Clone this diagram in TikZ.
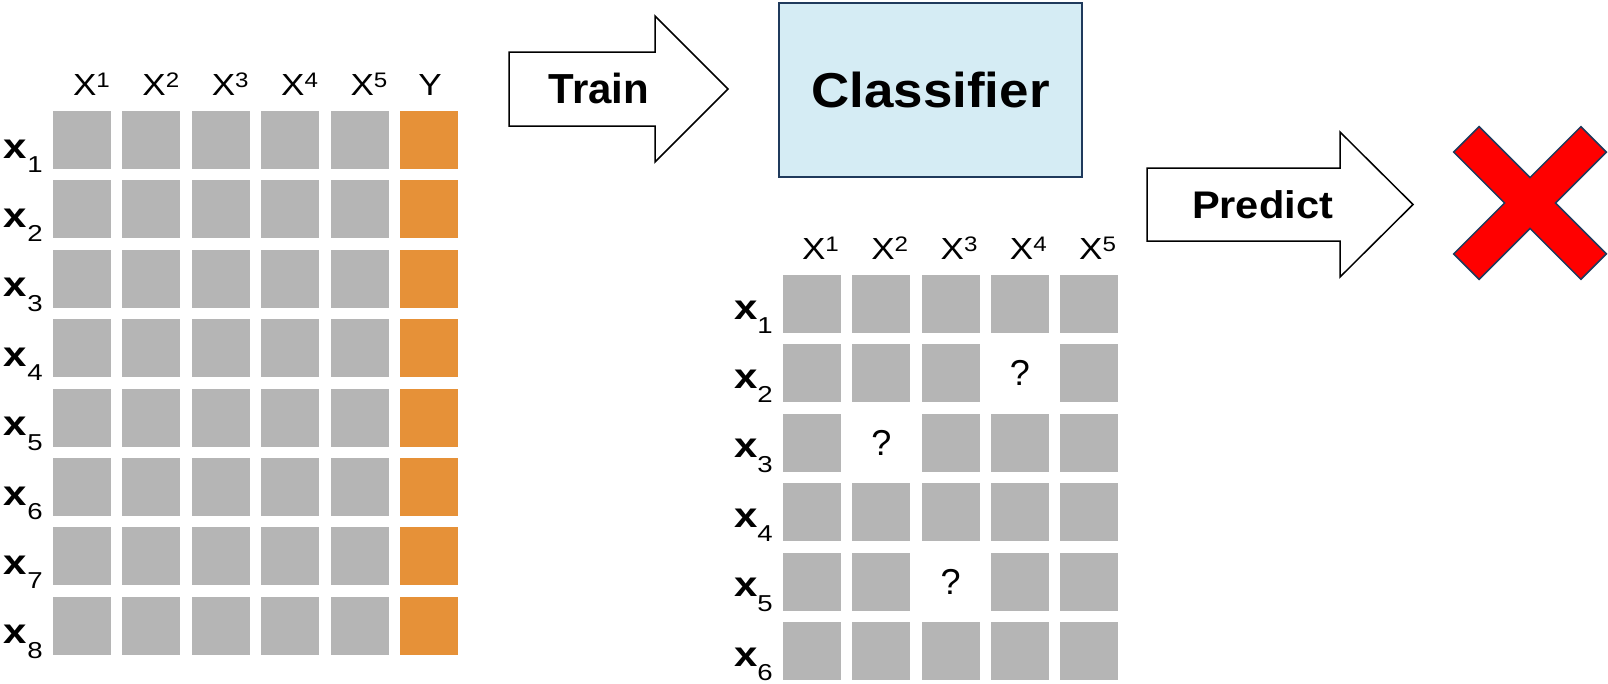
\documentclass[tikz,border=0pt]{standalone}
\usepackage{graphicx}
\usepackage{fontspec}
\setmainfont{Liberation Sans}
\definecolor{cellgray}{HTML}{B5B5B5}
\definecolor{cellorange}{HTML}{E69138}
\definecolor{clsfill}{HTML}{D5ECF4}
\definecolor{clsdraw}{HTML}{1F3A5C}
\definecolor{xred}{HTML}{FF0000}
\newcommand{\hdrtext}[1]{\scalebox{1.15}[1]{\fontsize{30.5}{30}\selectfont X\raisebox{8pt}{\fontsize{21}{21}\selectfont #1}}}
\newcommand{\rowtext}[1]{\scalebox{1.2}[1]{\fontsize{35}{35}\selectfont\bfseries x\raisebox{-14.5pt}{\fontsize{23}{23}\selectfont\mdseries #1}}}
\begin{document}
\begin{tikzpicture}[x=1pt,y=-1pt,
  cell/.style={fill=cellgray, minimum width=58pt, minimum height=58pt, inner sep=0pt, outer sep=0pt},
  ycell/.style={cell, fill=cellorange},
  lbl/.style={inner sep=0pt, outer sep=0pt},
  blockarrow/.style={draw=black, fill=white, line width=1.5pt, line join=miter},
  qmark/.style={inner sep=0pt, outer sep=0pt, font=\fontsize{36}{36}\selectfont}]
\useasboundingbox (0,0) rectangle (1608,683);

% left training table
\foreach \c in {1,...,5}{
  \node[lbl, anchor=base west] (LH-\c) at ({82+69.4*(\c-1)-9}, 95) {\hdrtext{\c}};
}
\node[lbl, anchor=base] (LH-6) at (430, 95) {\scalebox{1.15}[1]{\fontsize{30.5}{30}\selectfont Y}};
\foreach \r in {1,...,8}{
  \foreach \c in {1,...,5}{
    \node[cell] (L-\r-\c) at ({82+69.4*(\c-1)}, {140+69.4*(\r-1)}) {};
  }
  \node[ycell] (L-\r-6) at ({82+69.4*5}, {140+69.4*(\r-1)}) {};
  \node[lbl, anchor=base west] (LR-\r) at (4, {158+69.4*(\r-1)}) {\rowtext{\r}};
}

% right test table
\foreach \c in {1,...,5}{
  \node[lbl, anchor=base west] (RH-\c) at ({812+69.3*(\c-1)-10}, 259.5) {\hdrtext{\c}};
}
\foreach \r in {1,...,6}{
  \foreach \c in {1,...,5}{
    \def\cellmiss{0}
    \ifnum\r=2 \ifnum\c=4 \def\cellmiss{1}\fi\fi
    \ifnum\r=3 \ifnum\c=2 \def\cellmiss{1}\fi\fi
    \ifnum\r=5 \ifnum\c=3 \def\cellmiss{1}\fi\fi
    \ifnum\cellmiss=0
      \node[cell] (R-\r-\c) at ({812+69.3*(\c-1)}, {304+69.4*(\r-1)}) {};
    \else
      \node[qmark] (R-\r-\c) at ({812+69.3*(\c-1)}, {304+69.4*(\r-1)}) {?};
    \fi
  }
  \node[lbl, anchor=base west] (RR-\r) at (734, {319+69.4*(\r-1)}) {\rowtext{\r}};
}

% Train arrow
\draw[blockarrow] (509,52) -- (655,52) -- (655,16) -- (728,89) -- (655,162) -- (655,126) -- (509,126) -- cycle;
\node[lbl] (train) at (599,88) {\fontsize{42}{42}\selectfont\bfseries Train};

% Classifier box
\node[draw=clsdraw, fill=clsfill, line width=1.5pt, minimum width=303pt, minimum height=174pt, inner sep=0pt] (clf) at (930.5,90) {\scalebox{1.08}[1]{\fontsize{49}{49}\selectfont\bfseries Classifier}};

% Predict arrow
\draw[blockarrow] (1147,168) -- (1340,168) -- (1340,132) -- (1413,204.5) -- (1340,277) -- (1340,241) -- (1147,241) -- cycle;
\node[lbl] (predict) at (1262.5,205) {\scalebox{1.08}[1]{\fontsize{38.5}{38}\selectfont\bfseries Predict}};

% red cross
\begin{scope}[shift={(1530,203)}, rotate=45]
\draw[draw=clsdraw, fill=xred, line width=1.5pt, line join=miter]
  (18,18) -- (90,18) -- (90,-18) -- (18,-18) -- (18,-90) -- (-18,-90) -- (-18,-18) -- (-90,-18) -- (-90,18) -- (-18,18) -- (-18,90) -- (18,90) -- cycle;
\end{scope}
\end{tikzpicture}
\end{document}
